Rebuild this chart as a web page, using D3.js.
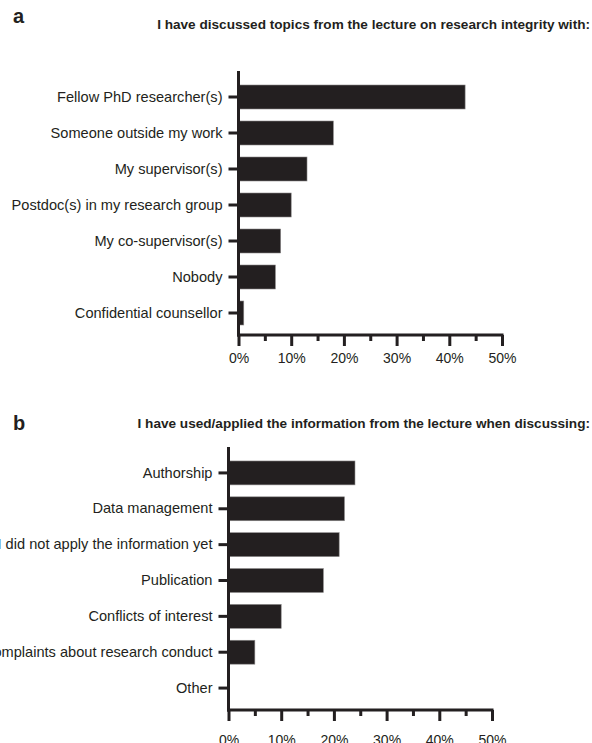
<!DOCTYPE html>
<html>
<head>
<meta charset="utf-8">
<script src="https://cdn.jsdelivr.net/npm/d3@7"></script>
<style>
  html, body { margin: 0; padding: 0; background: #fff; }
  svg { display: block; }
</style>
</head>
<body>
<svg id="chart" width="592" height="743"></svg>
<script>
// Panel a: who the respondents discussed the lecture topics with
const discussCategories = [
  "Fellow PhD researcher(s)",
  "Someone outside my work",
  "My supervisor(s)",
  "Postdoc(s) in my research group",
  "My co-supervisor(s)",
  "Nobody",
  "Confidential counsellor"
];
const discussValues = [43, 18, 13, 10, 8, 7, 1];

// Panel b: situations in which the lecture information was applied
const appliedCategories = [
  "Authorship",
  "Data management",
  "I did not apply the information yet",
  "Publication",
  "Conflicts of interest",
  "Complaints about research conduct",
  "Other"
];
const appliedValues = [24, 22, 21, 18, 10, 5, 0];

const xTickValues = [0, 10, 20, 30, 40, 50];
const xTickLabels = ["0%", "10%", "20%", "30%", "40%", "50%"];
const xMinorTicks = [5, 15, 25, 35, 45];

const INK = "#231f20";
const FONT = "'Liberation Sans', Arial, Helvetica, sans-serif";

const svg = d3.select("#chart");

function drawPanel(cfg) {
  const g = svg.append("g");

  // panel letter
  g.append("text")
    .attr("x", cfg.letterX).attr("y", cfg.letterY)
    .attr("font-family", FONT).attr("font-weight", "bold")
    .attr("font-size", 20).attr("fill", INK)
    .text(cfg.letter);

  // panel question, right-aligned to the page edge
  g.append("text")
    .attr("x", 590).attr("y", cfg.titleY)
    .attr("text-anchor", "end")
    .attr("font-family", FONT).attr("font-weight", "bold")
    .attr("font-size", 13.6).attr("fill", INK)
    .text(cfg.title);

  const x = d3.scaleLinear().domain([0, 50]).range([cfg.x0, cfg.x1]);
  const y = d3.scaleBand()
    .domain(cfg.categories)
    .range([cfg.bandTop, cfg.bandBottom])
    .paddingInner(1 / 3)
    .paddingOuter(1 / 6);

  // bars
  g.selectAll("rect.bar")
    .data(cfg.categories.map((c, i) => ({ c, v: cfg.values[i] })))
    .join("rect")
    .attr("class", "bar")
    .attr("x", x(0))
    .attr("y", d => y(d.c))
    .attr("width", d => x(d.v) - x(0))
    .attr("height", y.bandwidth())
    .attr("fill", INK)
    .attr("stroke", "#8a8888")
    .attr("stroke-width", 0.6);

  // y axis with category labels
  const yAxis = d3.axisLeft(y).tickSize(10).tickPadding(6).tickSizeOuter(0);
  const ya = g.append("g").attr("transform", `translate(${x(0)},0)`).call(yAxis);
  ya.select(".domain").remove();
  ya.selectAll(".tick line").attr("stroke", INK).attr("stroke-width", 3);
  ya.selectAll(".tick text")
    .attr("font-family", FONT).attr("font-size", 14.6).attr("fill", INK);
  g.append("line")
    .attr("x1", x(0)).attr("x2", x(0))
    .attr("y1", cfg.axisTop).attr("y2", cfg.axisY + 1.5)
    .attr("stroke", INK).attr("stroke-width", 3);

  // x axis: major ticks with labels, minor ticks between
  const xAxis = d3.axisBottom(x)
    .tickValues(xTickValues)
    .tickFormat((d, i) => xTickLabels[i])
    .tickSize(11).tickPadding(cfg.xLabelPad).tickSizeOuter(0);
  const xa = g.append("g").attr("transform", `translate(0,${cfg.axisY})`).call(xAxis);
  xa.select(".domain").remove();
  xa.selectAll(".tick line").attr("stroke", INK).attr("stroke-width", 3);
  xa.selectAll(".tick text")
    .attr("font-family", FONT).attr("font-size", 14).attr("fill", INK);

  const xMinor = d3.axisBottom(x).tickValues(xMinorTicks).tickSize(6)
    .tickFormat("").tickSizeOuter(0);
  const xm = g.append("g").attr("transform", `translate(0,${cfg.axisY})`).call(xMinor);
  xm.select(".domain").remove();
  xm.selectAll(".tick line").attr("stroke", INK).attr("stroke-width", 3);

  g.append("line")
    .attr("x1", x(0) - 1.5).attr("x2", x(50) + 1.5)
    .attr("y1", cfg.axisY).attr("y2", cfg.axisY)
    .attr("stroke", INK).attr("stroke-width", 3);
}

drawPanel({
  letter: "a", letterX: 13, letterY: 23,
  title: "I have discussed topics from the lecture on research integrity with:",
  titleY: 29.3,
  categories: discussCategories, values: discussValues,
  x0: 238.5, x1: 502,
  bandTop: 79, bandBottom: 331,
  axisTop: 71, axisY: 335, xLabelPad: 7
});

drawPanel({
  letter: "b", letterX: 13, letterY: 430,
  title: "I have used/applied the information from the lecture when discussing:",
  titleY: 428.3,
  categories: appliedCategories, values: appliedValues,
  x0: 228.5, x1: 492,
  bandTop: 455, bandBottom: 706,
  axisTop: 447, axisY: 710, xLabelPad: 14
});
</script>
</body>
</html>
